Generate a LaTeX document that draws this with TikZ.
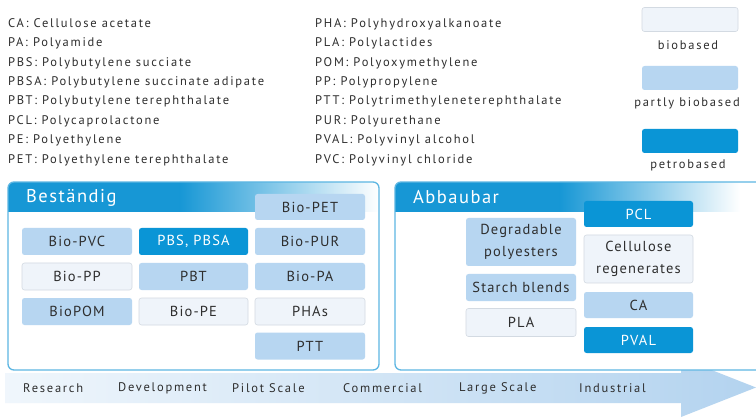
\documentclass[tikz,border=0pt]{standalone}
\usepackage{fontspec}
\setmainfont{PT Sans}[LetterSpace=14]
\newfontfamily\hdfont{PT Sans}[LetterSpace=8]
\newfontfamily\boxfont{PT Sans}[LetterSpace=8]
\definecolor{petro}{HTML}{0A95D6}
\definecolor{partly}{HTML}{B7D6F1}
\definecolor{bio}{HTML}{EFF4FA}
\definecolor{bioedge}{HTML}{D3DAE2}
\definecolor{panelline}{HTML}{5DB6E2}
\definecolor{hdblue}{HTML}{1797D5}
\definecolor{txt}{HTML}{2E2E2E}
\definecolor{band}{HTML}{B3D3EF}
\tikzset{
  box/.style={rounded corners=2.5pt, minimum width=110pt, minimum height=27pt, inner sep=1pt, align=center, font=\boxfont\fontsize{14.5}{22}\selectfont, text=txt},
  pb/.style={box, fill=partly},
  bb/.style={box, fill=bio, draw=bioedge, line width=0.6pt},
  ptb/.style={box, fill=petro, text=white},
  legtxt/.style={anchor=base west, inner sep=0pt, font=\fontsize{12.5}{15}\selectfont, text=txt},
  legbox/.style={rounded corners=2.5pt, minimum width=96pt, minimum height=24pt, inner sep=0pt},
  leglab/.style={inner sep=0pt, font=\fontsize{12.5}{15}\selectfont, text=txt},
  stage/.style={anchor=west, inner sep=0pt, font=\fontsize{12.5}{15}\selectfont, text=txt},
  hdtxt/.style={anchor=west, inner sep=0pt, font=\hdfont\fontsize{18.5}{22}\selectfont, text=white},
  panel/.style={rounded corners=6pt, draw=panelline, line width=1.3pt},
}
\begin{document}
\begin{tikzpicture}[x=1pt,y=-1pt]
\useasboundingbox (0,0) rectangle (756,417);
\clip (0,0) rectangle (756,417);
\fill[white] (0,0) rectangle (756,417);

% legend text
\node[legtxt] (l1) at (8,27.3) {CA: Cellulose acetate};
\node[legtxt] (l2) at (8,46.7) {PA: Polyamide};
\node[legtxt] (l3) at (8,66.1) {PBS: Polybutylene succiate};
\node[legtxt] (l4) at (8,85.5) {PBSA: Polybutylene succinate adipate};
\node[legtxt] (l5) at (8,104.9) {PBT: Polybutylene terephthalate};
\node[legtxt] (l6) at (8,124.3) {PCL: Polycaprolactone};
\node[legtxt] (l7) at (8,143.7) {PE: Polyethylene};
\node[legtxt] (l8) at (8,163.1) {PET: Polyethylene terephthalate};
\node[legtxt] (r1) at (315,27.3) {PHA: Polyhydroxyalkanoate};
\node[legtxt] (r2) at (315,46.7) {PLA: Polylactides};
\node[legtxt] (r3) at (315,66.1) {POM: Polyoxymethylene};
\node[legtxt] (r4) at (315,85.5) {PP: Polypropylene};
\node[legtxt] (r5) at (315,104.9) {PTT: Polytrimethyleneterephthalate};
\node[legtxt] (r6) at (315,124.3) {PUR: Polyurethane};
\node[legtxt] (r7) at (315,143.7) {PVAL: Polyvinyl alcohol};
\node[legtxt] (r8) at (315,163.1) {PVC: Polyvinyl chloride};

% colour key
\node[legbox, fill=bio, draw=bioedge, line width=0.6pt] (kbio) at (690,19.5) {};
\node[leglab] (kbiol) at (688,45) {biobased};
\node[legbox, fill=partly] (kpart) at (690,78) {};
\node[leglab] (kpartl) at (687,103) {partly biobased};
\node[legbox, fill=petro] (kpetro) at (690,141) {};
\node[leglab] (kpetrol) at (688,165) {petrobased};

% bottom arrow
\shade[left color=band!20, right color=band]
  (5,373) -- (681,373) -- (681,358) -- (756,387.5) -- (681,417) -- (681,403) -- (5,403) -- cycle;

% left panel
\fill[white, rounded corners=6pt] (8,182) rectangle (379,370);
\begin{scope}
  \clip[rounded corners=6pt] (8,182) rectangle (379,370);
  \fill[hdblue] (8,182) rectangle (180,212);
  \shade[left color=hdblue, right color=white] (179.5,182) rectangle (379,212);
\end{scope}
\draw[panel] (8,182) rectangle (379,370);
\node[hdtxt] (hb) at (26,197.5) {Beständig};

% right panel
\fill[white, rounded corners=6pt] (395,182) rectangle (770,370);
\begin{scope}
  \clip[rounded corners=6pt] (395,182) rectangle (770,370);
  \fill[hdblue] (395,182) rectangle (560,212);
  \shade[left color=hdblue, right color=white] (559.5,182) rectangle (740,212);
\end{scope}
\draw[panel] (395,182) rectangle (770,370);
\node[hdtxt] (ha) at (413,197.5) {Abbaubar};

% left boxes
\node[pb, minimum height=26pt] (biopet) at (310,207) {Bio-PET};
\node[pb] (biopvc) at (77,241.5) {Bio-PVC};
\node[ptb, minimum width=109pt] (pbs) at (193.5,241.5) {PBS, PBSA};
\node[pb] (biopur) at (310,241.5) {Bio-PUR};
\node[bb] (biopp) at (77,276.5) {Bio-PP};
\node[pb, minimum width=109pt] (pbt) at (193.5,276.5) {PBT};
\node[pb] (biopa) at (310,276.5) {Bio-PA};
\node[pb] (biopom) at (77,311.5) {BioPOM};
\node[bb, minimum width=109pt] (biope) at (193.5,311.5) {Bio-PE};
\node[bb] (phas) at (310,311.5) {PHAs};
\node[pb] (ptt) at (310,346) {PTT};

% right boxes
\node[ptb, minimum width=109pt, minimum height=26pt] (pcl) at (638.5,214) {PCL};
\node[pb, minimum height=48pt] (degr) at (521,242) {Degradable\\polyesters};
\node[bb, minimum width=109pt, minimum height=48pt] (cell) at (638.5,259) {Cellulose\\regenerates};
\node[pb] (starch) at (521,287.5) {Starch blends};
\node[pb, minimum width=109pt, minimum height=26pt] (ca) at (638.5,305) {CA};
\node[bb, minimum height=28pt] (pla) at (521,322.5) {PLA};
\node[ptb, minimum width=109pt, minimum height=26pt] (pval) at (638.5,340) {PVAL};

% stages
\node[stage] (s1) at (23,388) {Research};
\node[stage] (s2) at (118,388) {Development};
\node[stage] (s3) at (232,388) {Pilot Scale};
\node[stage] (s4) at (343,388) {Commercial};
\node[stage] (s5) at (459,388) {Large Scale};
\node[stage] (s6) at (579,388) {Industrial};
\end{tikzpicture}
\end{document}
